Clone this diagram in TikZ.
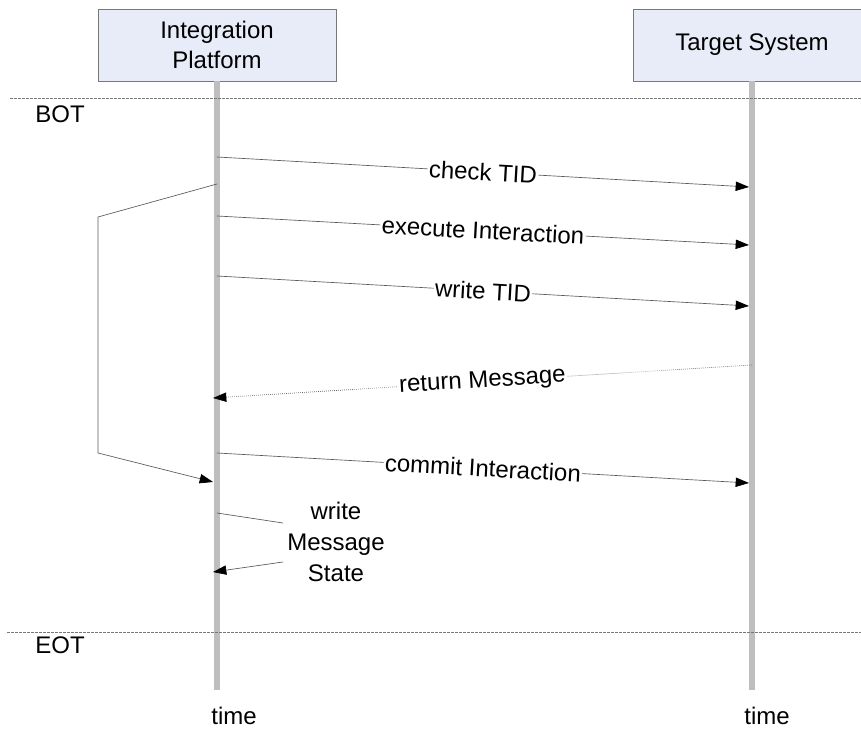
\documentclass[tikz,border=0pt]{standalone}
\usepackage{fontspec}
\setmainfont{Liberation Sans}
\usetikzlibrary{arrows.meta,positioning}

\definecolor{boxfill}{RGB}{232,236,248}
\definecolor{boxline}{RGB}{120,120,120}
\definecolor{lifecol}{RGB}{190,190,190}
\definecolor{msgcol}{RGB}{90,90,90}

\tikzset{
	actor/.style={draw=boxline, fill=boxfill, align=center, minimum width=178.5pt, minimum height=54pt, font=\fontsize{18}{22}\selectfont, inner sep=2pt},
	lifeline/.style={draw=lifecol, line width=4.5pt},
	phase/.style={draw=boxline, dashed, dash pattern=on 2pt off 1pt, line width=0.5pt},
	msg/.style={draw=msgcol, line width=0.5pt, -{Triangle[length=10pt, width=7pt, color=black]}},
	reply/.style={msg, densely dotted},
	msglabel/.style={fill=white, inner sep=1pt, font=\fontsize{18}{22}\selectfont},
	plain/.style={font=\fontsize{18}{22}\selectfont}
}

\begin{document}
\begin{tikzpicture}[x=0.75pt, y=-0.75pt]
		\useasboundingbox (0,0) rectangle (861,730);
		\clip (0,0) rectangle (861,730);
		% participants
		\node[actor] (ip) at (217,45) {Integration\\Platform};
		\node[actor] (ts) at (752,45) {Target System};
		\coordinate (ipend) at (217,690);
		\coordinate (tsend) at (752,690);
		\draw[lifeline] (ip.south) -- (ipend);
		\draw[lifeline] (ts.south) -- (tsend);
		% transaction borders
		\coordinate (botl) at (10,98);
		\coordinate (botr) at (861,98);
		\coordinate (eotl) at (7,632);
		\coordinate (eotr) at (861,632);
		\draw[phase] (botl) -- (botr);
		\draw[phase] (eotl) -- (eotr);
		\node[plain] (bot) at (60,114) {BOT};
		\node[plain] (eot) at (60,645) {EOT};
		\node[plain] (iptime) at (234,716) {time};
		\node[plain] (tstime) at (767,716) {time};
		% messages
		\coordinate (ck1) at (217,157);
		\coordinate (ck2) at (749,187);
		\coordinate (ex1) at (217,216);
		\coordinate (ex2) at (749,245);
		\coordinate (wt1) at (217,276);
		\coordinate (wt2) at (749,306);
		\coordinate (rm1) at (752,365);
		\coordinate (rm2) at (213,398);
		\coordinate (cm1) at (217,453);
		\coordinate (cm2) at (749,483);
		\draw[msg] (ck1) -- node[midway, sloped, msglabel] (ckl) {check TID} (ck2);
		\draw[msg] (ex1) -- node[midway, sloped, msglabel] (exl) {execute Interaction} (ex2);
		\draw[msg] (wt1) -- node[midway, sloped, msglabel] (wtl) {write TID} (wt2);
		\draw[reply] (rm1) -- node[midway, sloped, msglabel] (rml) {return Message} (rm2);
		\draw[msg] (cm1) -- node[midway, sloped, msglabel] (cml) {commit Interaction} (cm2);
		% self message
		\node[plain, align=center, inner sep=0pt] (wms) at (336,542) {write\\[1.5pt]Message\\[1.5pt]State};
		\coordinate (ws1) at (217,513);
		\coordinate (ws2) at (283,523);
		\coordinate (ws3) at (283,562);
		\coordinate (ws4) at (213,572);
		\draw[draw=msgcol, line width=0.5pt] (ws1) -- (ws2);
		\draw[msg] (ws3) -- (ws4);
		% retry loop
		\coordinate (lp1) at (217,184);
		\coordinate (lp2) at (98,217);
		\coordinate (lp3) at (98,453);
		\coordinate (lp4) at (213,482);
		\draw[msg] (lp1) -- (lp2) -- (lp3) -- (lp4);
	\end{tikzpicture}
\end{document}
